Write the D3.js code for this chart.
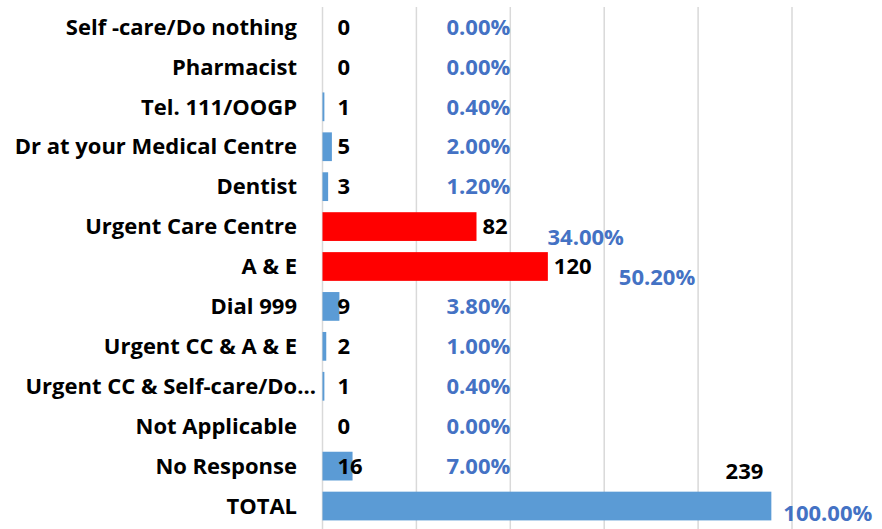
<!DOCTYPE html>
<html>
<head>
<meta charset="utf-8">
<script src="https://cdn.jsdelivr.net/npm/d3@7"></script>
<style>
  body { margin: 0; background: #fff; }
  text { font-family: "Open Sans", Lato, sans-serif; font-weight: bold; }
</style>
</head>
<body>
<svg id="chart" width="882" height="529"></svg>
<script>
// data
var categories = ["Self -care/Do nothing", "Pharmacist", "Tel. 111/OOGP",
    "Dr at your Medical Centre", "Dentist", "Urgent Care Centre", "A & E",
    "Dial 999", "Urgent CC & A & E", "Urgent CC & Self-care/Do...",
    "Not Applicable", "No Response", "TOTAL"];
var counts = [0, 0, 1, 5, 3, 82, 120, 9, 2, 1, 0, 16, 239];
var percents = [0, 0, 0.4, 2.0, 1.2, 34.0, 50.2, 3.8, 1.0, 0.4, 0, 7.0, 100];
var highlighted = ["Urgent Care Centre", "A & E"];
var xTicks = [0, 50, 100, 150, 200, 250];

var rows = categories.map(function(c, i){
    return {cat: c, n: counts[i], pct: percents[i]};
});
var total_cat = categories[categories.length - 1];
var fs = 22;

var svg = d3.select("#chart");

var x = d3.scaleLinear()
    .domain([0, 250])
    .range([322.5, 792]);

var y = d3.scaleBand()
    .domain(categories)
    .range([7, 526])
    .paddingInner(0.28)
    .paddingOuter(0.14);

// vertical gridlines
svg.append("g")
    .selectAll("line")
    .data(xTicks)
    .join("line")
    .attr("x1", function(d){ return x(d); })
    .attr("x2", function(d){ return x(d); })
    .attr("y1", 7)
    .attr("y2", 529)
    .attr("stroke", "#d9d9d9")
    .attr("stroke-width", 1.5);

// bars
svg.append("g")
    .selectAll("rect")
    .data(rows)
    .join("rect")
    .attr("x", x(0))
    .attr("y", function(d){ return y(d.cat); })
    .attr("width", function(d){ return x(d.n) - x(0); })
    .attr("height", y.bandwidth())
    .attr("fill", function(d){
        return highlighted.indexOf(d.cat) >= 0 ? "#ff0000" : "#5b9bd5";
    });

// category labels
svg.append("g")
    .selectAll("text")
    .data(rows)
    .join("text")
    .attr("x", function(d){
        // excel lets the truncated label run past the others
        return /\.\.\.$/.test(d.cat) ? 316 : 297;
    })
    .attr("y", function(d){ return y(d.cat) + y.bandwidth() / 2; })
    .attr("dy", "0.35em")
    .attr("text-anchor", "end")
    .attr("font-size", fs)
    .attr("fill", "#000")
    .text(function(d){ return d.cat; });

// count labels
svg.append("g")
    .selectAll("text")
    .data(rows)
    .join("text")
    .attr("x", function(d){
        if (d.cat == total_cat) return x(d.n) - 8;
        if (d.n < 50) return x(0) + 15;
        return x(d.n) + 6;
    })
    .attr("y", function(d){
        var cy = y(d.cat) + y.bandwidth() / 2;
        return d.cat == total_cat ? cy - 35 : cy;
    })
    .attr("dy", "0.35em")
    .attr("text-anchor", function(d){ return d.cat == total_cat ? "end" : "start"; })
    .attr("font-size", fs)
    .attr("fill", "#000")
    .text(function(d){ return d.n; });

// percentage labels
svg.append("g")
    .selectAll("text")
    .data(rows)
    .join("text")
    .attr("x", function(d){
        if (d.cat == total_cat) return x(d.n) + 12;
        if (d.pct < 10) return x(100);
        return x(d.n) + 71;
    })
    .attr("y", function(d){
        var cy = y(d.cat) + y.bandwidth() / 2;
        if (d.cat == total_cat) return cy + 7;
        return d.pct < 10 ? cy : cy + 11;
    })
    .attr("dy", "0.35em")
    .attr("text-anchor", function(d){ return d.pct < 10 ? "end" : "start"; })
    .attr("font-size", fs)
    .attr("fill", "#4472c4")
    .text(function(d){ return d.pct.toFixed(2) + "%"; });
</script>
</body>
</html>
